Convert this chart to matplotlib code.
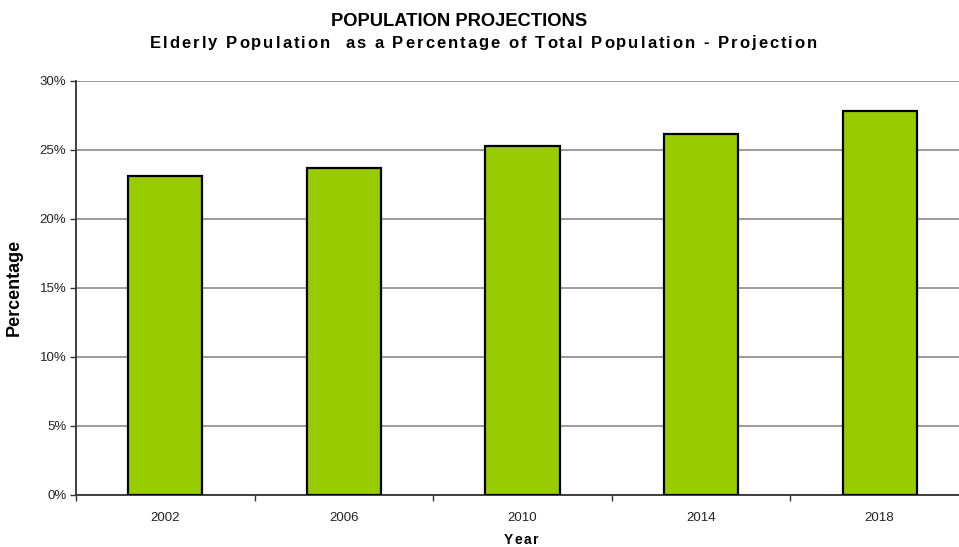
import matplotlib.pyplot as plt
import numpy as np
from matplotlib.font_manager import FontProperties, findfont
from matplotlib.ft2font import FT2Font

plt.rcParams['font.family'] = ['Liberation Sans', 'DejaVu Sans']

# projected share of elderly in total population
years = ['2002', '2006', '2010', '2014', '2018']
share = [23.1, 23.65, 25.25, 26.1, 27.8]

W, H = 959, 547
fig = plt.figure(figsize=(W / 100, H / 100), dpi=100)
ax = fig.add_axes([0.0793, 0.0951, 0.931, 0.7575])


def spaced_text(cx, cy, s, size, gap):
    """Bold text centred at (cx, cy) pixels with extra letter spacing."""
    font = FT2Font(findfont(FontProperties(family='Liberation Sans', weight='bold')))
    font.set_size(size, 100)
    adv = [font.load_char(ord(c)).linearHoriAdvance / 65536 for c in s]
    total = sum(adv) + gap * (len(s) - 1)
    x = cx - total / 2
    for c, a in zip(s, adv):
        if c != ' ':
            fig.text(x / W, 1 - cy / H, c, ha='left', va='center',
                     fontsize=size, fontweight='bold')
        x += a + gap


x = np.arange(len(years))
ax.bar(x, share, width=0.415, color='#99CC00', edgecolor='black', linewidth=1.6, zorder=3)

ax.set_xlim(-0.5, len(years) - 0.5)
ax.set_ylim(0, 30)
ax.set_yticks(np.arange(0, 31, 5))
ax.set_yticklabels([f'{v}%' for v in range(0, 31, 5)], fontsize=9.5, color='#222222')
ax.set_xticks(x)
ax.set_xticklabels(years, fontsize=9.5, color='#222222')
ax.set_xticks(np.arange(-0.5, len(years)), minor=True)
ax.tick_params(axis='x', which='major', length=0, pad=12)
ax.tick_params(axis='x', which='minor', length=4, width=1, color='#333333')
ax.tick_params(axis='y', length=4, width=1, color='#333333', pad=3)

ax.yaxis.grid(True, color='#808080', linewidth=1.1, zorder=0)
for s in ['top', 'right']:
    ax.spines[s].set_visible(False)
for s in ['left', 'bottom']:
    ax.spines[s].set_color('#333333')
    ax.spines[s].set_linewidth(1.3)

ax.set_ylabel('Percentage', fontsize=13, fontweight='bold', labelpad=12)
spaced_text(521, 540, 'Year', 10, 1.5)

fig.text(459.5 / W, 1 - 21 / H, 'POPULATION PROJECTIONS', ha='center', va='center',
         fontsize=13.2, fontweight='bold')
spaced_text(483.5, 43, 'Elderly Population  as a Percentage of Total Population - Projection',
            12, 2.0)

fig.savefig('out.png', dpi=100)
